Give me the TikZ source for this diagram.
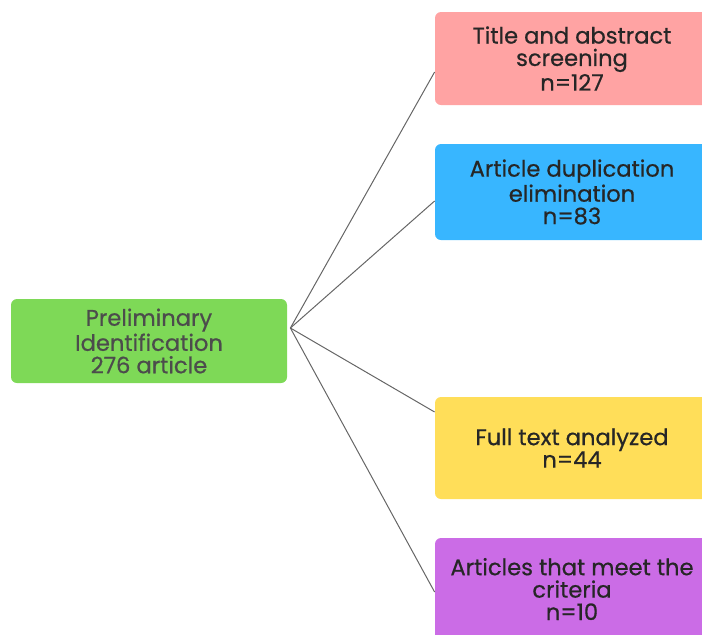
\documentclass[tikz,border=0pt]{standalone}
\usepackage{fontspec}
\setmainfont{Poppins}
\newfontfamily\stagefont{Poppins}[FakeBold=0.6]
\usetikzlibrary{calc}

\definecolor{idGreen}{HTML}{7ED957}
\definecolor{scrPink}{HTML}{FFA3A3}
\definecolor{dupBlue}{HTML}{38B6FF}
\definecolor{fullYellow}{HTML}{FFDE59}
\definecolor{critPurple}{HTML}{CB6CE6}

\begin{document}
\begin{tikzpicture}[x=0.5pt, y=-0.5pt,
  stage/.style={rounded corners=3pt, align=center, font=\stagefont\fontsize{11.3}{11.2}\selectfont,
                text=black!85, inner sep=0pt, minimum width=137pt},
  link/.style={draw=black!60, line width=0.5pt}]
  % ============================================================
  % Canvas (1 unit = 1 px of the 702 x 634 reference)
  % ============================================================
  \clip (0,0) rectangle (702,634);

  % 1. Source box
  \node[stage, fill=idGreen, text=black!70, minimum width=138pt, minimum height=42pt]
    (ident) at (149,341) {Preliminary\\Identification\\276 article};

  % 2. Stage boxes (right column, cut by the page edge)
  \node[stage, fill=scrPink, minimum height=46.5pt]
    (screen) at (572,58.5) {Title and abstract\\screening\\n=127};
  \node[stage, fill=dupBlue, minimum height=48pt]
    (dupl) at (572,192) {Article duplication\\elimination\\n=83};
  \node[stage, fill=fullYellow, minimum height=51pt]
    (fulltext) at (572,448) {Full text analyzed\\n=44};
  \node[stage, fill=critPurple, minimum height=51pt]
    (criteria) at (572,589) {Articles that meet the\\criteria\\n=10};

  % 3. Connector ends
  \coordinate (hub)  at ([xshift=1.5pt, yshift=6.5pt]ident.east);
  \coordinate (inS)  at ([yshift=-6.75pt]screen.west);
  \coordinate (inD)  at ([yshift=-4.5pt]dupl.west);
  \coordinate (inF)  at ([yshift=18pt]fulltext.west);
  \coordinate (inC)  at ([yshift=-1.5pt]criteria.west);

  % 4. Fan of connectors
  \foreach \t in {inS, inD, inF, inC}
    \draw[link] (hub) -- (\t);
\end{tikzpicture}
\end{document}
